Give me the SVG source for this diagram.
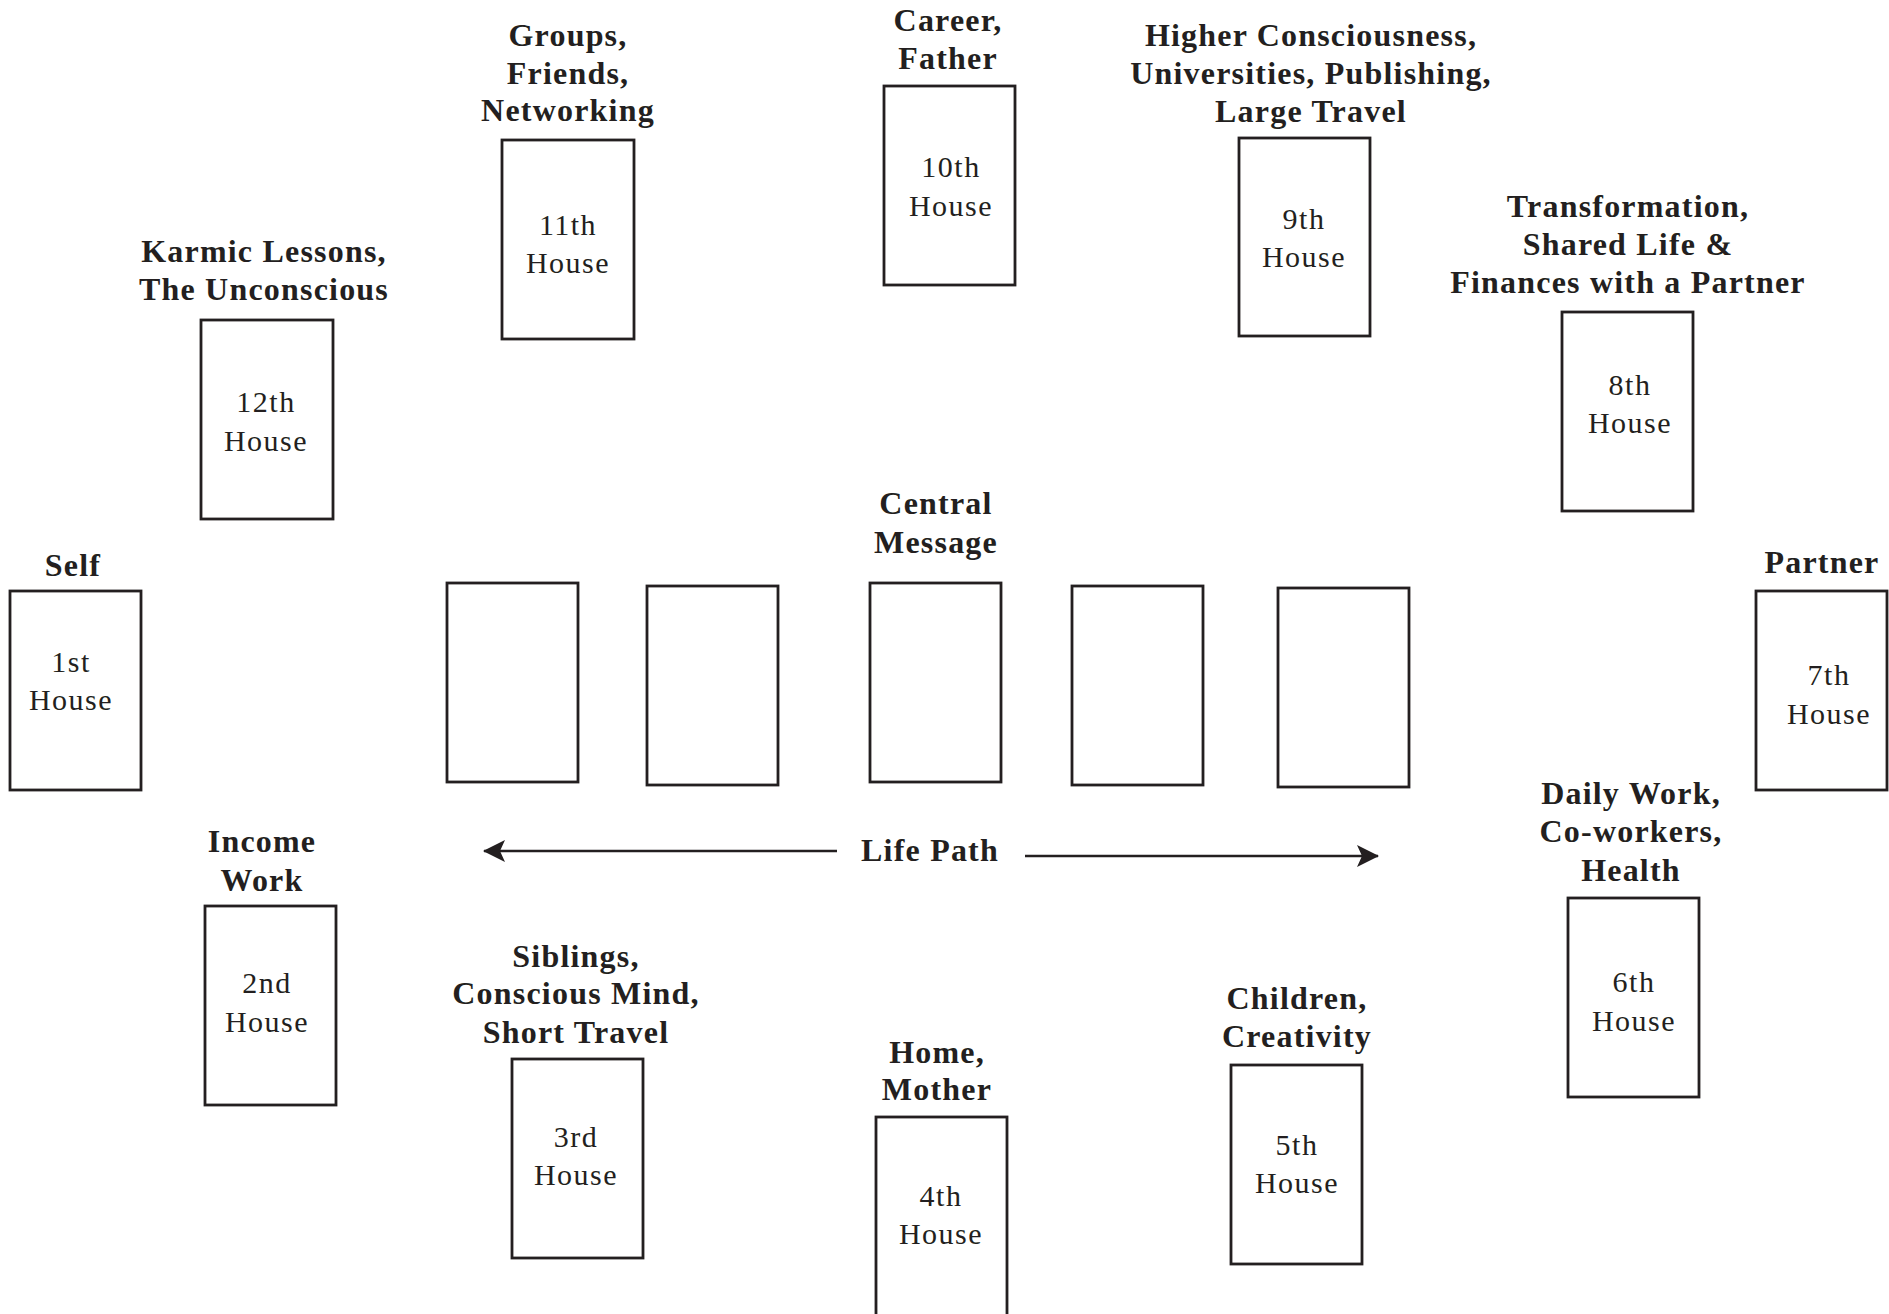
<svg xmlns="http://www.w3.org/2000/svg" width="1889" height="1314" viewBox="0 0 1889 1314">
<style>
.box{fill:#fff;stroke:#231f20;stroke-width:2.8}
.lbl{font-family:"Liberation Serif","Times New Roman",serif;font-weight:bold;font-size:32px;letter-spacing:1.2px;fill:#231f20;text-anchor:middle}
.num{font-family:"Liberation Serif","Times New Roman",serif;font-size:30px;letter-spacing:1.5px;fill:#231f20;text-anchor:middle}
.conn{stroke:#231f20;stroke-width:2.6;fill:none}
</style>
<defs>
<marker id="arr" viewBox="0 0 22 22" refX="21" refY="11" markerWidth="22" markerHeight="22" orient="auto" markerUnits="userSpaceOnUse">
<path d="M0,0 L22,11 L0,22 L5,11 Z" fill="#231f20"/>
</marker>
</defs>
<rect width="1889" height="1314" fill="#fff"/>

<g id="house1">
<text class="lbl" x="73" y="576">Self</text>
<rect class="box" x="10" y="591" width="131" height="199"/>
<text class="num" x="71" y="672">1st</text>
<text class="num" x="71" y="710">House</text>
</g>

<g id="house12">
<text class="lbl" x="264" y="262">Karmic Lessons,</text>
<text class="lbl" x="264" y="300">The Unconscious</text>
<rect class="box" x="201" y="320" width="132" height="199"/>
<text class="num" x="266" y="412">12th</text>
<text class="num" x="266" y="451">House</text>
</g>

<g id="house11">
<text class="lbl" x="568" y="46">Groups,</text>
<text class="lbl" x="568" y="84">Friends,</text>
<text class="lbl" x="568" y="121">Networking</text>
<rect class="box" x="502" y="140" width="132" height="199"/>
<text class="num" x="568" y="235">11th</text>
<text class="num" x="568" y="273">House</text>
</g>

<g id="house10">
<text class="lbl" x="948" y="31">Career,</text>
<text class="lbl" x="948" y="69">Father</text>
<rect class="box" x="884" y="86" width="131" height="199"/>
<text class="num" x="951" y="177">10th</text>
<text class="num" x="951" y="216">House</text>
</g>

<g id="house9">
<text class="lbl" x="1311" y="46">Higher Consciousness,</text>
<text class="lbl" x="1311" y="84">Universities, Publishing,</text>
<text class="lbl" x="1311" y="122">Large Travel</text>
<rect class="box" x="1239" y="138" width="131" height="198"/>
<text class="num" x="1304" y="229">9th</text>
<text class="num" x="1304" y="267">House</text>
</g>

<g id="house8">
<text class="lbl" x="1628" y="217">Transformation,</text>
<text class="lbl" x="1628" y="255">Shared Life &amp;</text>
<text class="lbl" x="1628" y="293">Finances with a Partner</text>
<rect class="box" x="1562" y="312" width="131" height="199"/>
<text class="num" x="1630" y="395">8th</text>
<text class="num" x="1630" y="433">House</text>
</g>

<g id="house7">
<text class="lbl" x="1822" y="573">Partner</text>
<rect class="box" x="1756" y="591" width="131" height="199"/>
<text class="num" x="1829" y="685">7th</text>
<text class="num" x="1829" y="724">House</text>
</g>

<g id="house6">
<text class="lbl" x="1631" y="804">Daily Work,</text>
<text class="lbl" x="1631" y="842">Co-workers,</text>
<text class="lbl" x="1631" y="881">Health</text>
<rect class="box" x="1568" y="898" width="131" height="199"/>
<text class="num" x="1634" y="992">6th</text>
<text class="num" x="1634" y="1031">House</text>
</g>

<g id="house5">
<text class="lbl" x="1297" y="1009">Children,</text>
<text class="lbl" x="1297" y="1047">Creativity</text>
<rect class="box" x="1231" y="1065" width="131" height="199"/>
<text class="num" x="1297" y="1155">5th</text>
<text class="num" x="1297" y="1193">House</text>
</g>

<g id="house4">
<text class="lbl" x="937" y="1063">Home,</text>
<text class="lbl" x="937" y="1100">Mother</text>
<rect class="box" x="876" y="1117" width="131" height="199"/>
<text class="num" x="941" y="1206">4th</text>
<text class="num" x="941" y="1244">House</text>
</g>

<g id="house3">
<text class="lbl" x="576" y="967">Siblings,</text>
<text class="lbl" x="576" y="1004">Conscious Mind,</text>
<text class="lbl" x="576" y="1043">Short Travel</text>
<rect class="box" x="512" y="1059" width="131" height="199"/>
<text class="num" x="576" y="1147">3rd</text>
<text class="num" x="576" y="1185">House</text>
</g>

<g id="house2">
<text class="lbl" x="262" y="852">Income</text>
<text class="lbl" x="262" y="891">Work</text>
<rect class="box" x="205" y="906" width="131" height="199"/>
<text class="num" x="267" y="993">2nd</text>
<text class="num" x="267" y="1032">House</text>
</g>

<g id="card1"><rect class="box" x="447" y="583" width="131" height="199"/></g>
<g id="card2"><rect class="box" x="647" y="586" width="131" height="199"/></g>
<g id="central">
<text class="lbl" x="936" y="514">Central</text>
<text class="lbl" x="936" y="553">Message</text>
<rect class="box" x="870" y="583" width="131" height="199"/>
</g>
<g id="card4"><rect class="box" x="1072" y="586" width="131" height="199"/></g>
<g id="card5"><rect class="box" x="1278" y="588" width="131" height="199"/></g>

<g id="lifepath">
<text class="lbl" x="930" y="861">Life Path</text>
</g>

<g id="connectors">
<line class="conn" x1="837" y1="851" x2="484" y2="851" marker-end="url(#arr)"/>
<line class="conn" x1="1025" y1="856" x2="1378" y2="856" marker-end="url(#arr)"/>
</g>
</svg>
